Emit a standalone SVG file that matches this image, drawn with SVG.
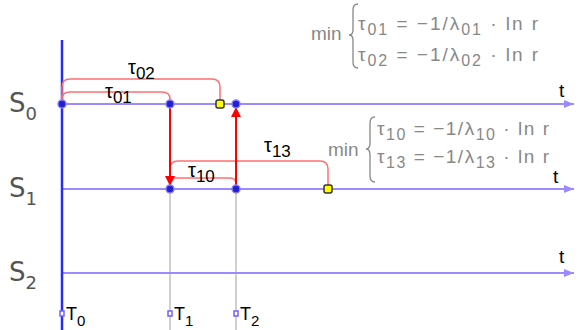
<svg xmlns="http://www.w3.org/2000/svg" width="578" height="330" viewBox="0 0 578 330">
<defs>
<style>
.st{fill:none;stroke:#9a8cff;stroke-width:2}
.grid{stroke:#c0c0c0;stroke-width:1.5}
.br{fill:none;stroke:#ff7070;stroke-width:1.5}
.ar{stroke:#ff0000;stroke-width:2}
.lab{font-family:"Liberation Sans",Arial,sans-serif;fill:#000}
.sl{font-family:"DejaVu Sans","Liberation Sans",sans-serif;fill:#555;font-size:26px}
.fm{font-family:"Liberation Sans",Arial,sans-serif;fill:#888;font-size:19px}
.dot{fill:#2222cc;stroke:#8a7cff;stroke-width:1.5}
.ydot{fill:#ffff00;stroke:#333;stroke-width:1.5}
.tm{fill:#fff;stroke:#7060ff;stroke-width:1.5}
</style>
<marker id="ah" markerWidth="10" markerHeight="8" refX="10" refY="4" orient="auto" markerUnits="userSpaceOnUse">
<path d="M0,0 L10,4 L0,8 Z" fill="#9a8cff"/>
</marker>
<marker id="ra" markerWidth="12" markerHeight="10" refX="10" refY="5" orient="auto" markerUnits="userSpaceOnUse">
<path d="M0,0 L10,5 L0,10 Z" fill="#ff0000"/>
</marker>
</defs>
<rect width="578" height="330" fill="#fff"/>
<g id="grid">
<line class="grid" x1="170" y1="189" x2="170" y2="330"/>
<line class="grid" x1="236" y1="189" x2="236" y2="330"/>
</g>
<g id="states">
<line class="st" x1="62" y1="104" x2="574" y2="104" marker-end="url(#ah)"/>
<line class="st" x1="62" y1="189" x2="574" y2="189" marker-end="url(#ah)"/>
<line class="st" x1="62" y1="273" x2="574" y2="273" marker-end="url(#ah)"/>
<line x1="62" y1="40" x2="62" y2="330" stroke="#2a2aff" stroke-width="2.5"/>
<text class="sl" x="9" y="112">S<tspan font-size="18" dy="8">0</tspan></text>
<text class="sl" x="9" y="197">S<tspan font-size="18" dy="8">1</tspan></text>
<text class="sl" x="9" y="281">S<tspan font-size="18" dy="8">2</tspan></text>
<text class="lab" x="559" y="97" font-size="19">t</text>
<text class="lab" x="553" y="183" font-size="19">t</text>
<text class="lab" x="559" y="263" font-size="19">t</text>
</g>
<g id="connectors">
<path class="br" d="M62,104 V87 Q62,79 70,79 H212 Q220,79 220,87 V104"/>
<path class="br" d="M62,104 V99 Q62,92 70,92 H162 Q170,92 170,99 V104"/>
<path class="br" d="M170,189 V169 Q170,161 178,161 H320 Q328,161 328,169 V189"/>
<path class="br" d="M170,189 V178 H230 Q236,178 236,184 V189"/>
<line class="ar" x1="170" y1="104" x2="170" y2="186" marker-end="url(#ra)"/>
<line class="ar" x1="236" y1="189" x2="236" y2="107" marker-end="url(#ra)"/>
<text class="lab" x="128" y="74" font-size="20">τ<tspan font-size="17" dy="5">02</tspan></text>
<text class="lab" x="105" y="98" font-size="20">τ<tspan font-size="17" dy="5">01</tspan></text>
<text class="lab" x="264" y="152" font-size="20">τ<tspan font-size="17" dy="5">13</tspan></text>
<text class="lab" x="188" y="177" font-size="20">τ<tspan font-size="17" dy="5">10</tspan></text>
</g>
<g id="nodes">
<g id="n00"><circle class="dot" cx="62" cy="104" r="4"/></g>
<g id="n01"><circle class="dot" cx="170" cy="104" r="4"/></g>
<g id="n02"><rect class="ydot" x="216" y="100" width="8" height="8" rx="2"/></g>
<g id="n03"><circle class="dot" cx="236" cy="104" r="4"/></g>
<g id="n11"><circle class="dot" cx="170" cy="189" r="4"/></g>
<g id="n12"><circle class="dot" cx="236" cy="189" r="4"/></g>
<g id="n13"><rect class="ydot" x="324" y="185" width="8" height="8" rx="2"/></g>
</g>
<g id="times">
<rect class="tm" x="60" y="311" width="4" height="5"/>
<rect class="tm" x="168" y="311" width="4" height="5"/>
<rect class="tm" x="234" y="311" width="4" height="5"/>
<text class="lab" x="66" y="320" font-size="18" fill="#222">T<tspan font-size="15" dy="6">0</tspan></text>
<text class="lab" x="174" y="320" font-size="18" fill="#222">T<tspan font-size="15" dy="6">1</tspan></text>
<text class="lab" x="240" y="320" font-size="18" fill="#222">T<tspan font-size="15" dy="6">2</tspan></text>
</g>
<g id="formula1">
<text class="fm" x="311" y="40">min</text>
<path d="M358,4 Q353,4 353,10 V30 Q353,35 349,35 Q353,35 353,40 V62 Q353,68 358,68" fill="none" stroke="#888" stroke-width="1.3"/>
<text class="fm" x="358" y="30" textLength="180" lengthAdjust="spacing">τ<tspan font-size="16" dy="5">01</tspan><tspan dy="-5"> = −1/λ</tspan><tspan font-size="16" dy="5">01</tspan><tspan dy="-5"> · ln r</tspan></text>
<text class="fm" x="358" y="61" textLength="180" lengthAdjust="spacing">τ<tspan font-size="16" dy="5">02</tspan><tspan dy="-5"> = −1/λ</tspan><tspan font-size="16" dy="5">02</tspan><tspan dy="-5"> · ln r</tspan></text>
</g>
<g id="formula2">
<text class="fm" x="328" y="156">min</text>
<path d="M375,117 Q370,117 370,123 V143 Q370,149 366,149 Q370,149 370,155 V176 Q370,182 375,182" fill="none" stroke="#888" stroke-width="1.3"/>
<text class="fm" x="377" y="135" textLength="172" lengthAdjust="spacing">τ<tspan font-size="16" dy="5">10</tspan><tspan dy="-5"> = −1/λ</tspan><tspan font-size="16" dy="5">10</tspan><tspan dy="-5"> · ln r</tspan></text>
<text class="fm" x="377" y="163" textLength="172" lengthAdjust="spacing">τ<tspan font-size="16" dy="5">13</tspan><tspan dy="-5"> = −1/λ</tspan><tspan font-size="16" dy="5">13</tspan><tspan dy="-5"> · ln r</tspan></text>
</g>
</svg>
